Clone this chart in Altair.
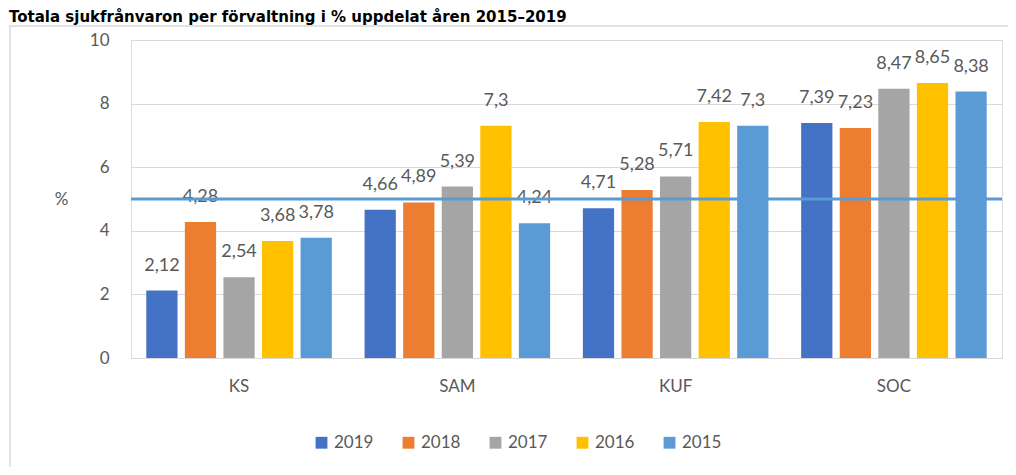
import altair as alt
import pandas as pd

categories = ["KS", "SAM", "KUF", "SOC"]
years = ["2019", "2018", "2017", "2016", "2015"]
colors = ["#4472c4", "#ed7d31", "#a5a5a5", "#ffc000", "#5b9bd5"]
values = {
    "2019": [2.12, 4.66, 4.71, 7.39],
    "2018": [4.28, 4.89, 5.28, 7.23],
    "2017": [2.54, 5.39, 5.71, 8.47],
    "2016": [3.68, 7.30, 7.42, 8.65],
    "2015": [3.78, 4.24, 7.30, 8.38],
}
y_ticks = [0, 2, 4, 6, 8, 10]
reference_line = [5.0]
title_text = "Totala sjukfrånvaron per förvaltning i % uppdelat åren 2015–2019"

rows = []
for yr in years:
    for c, v in zip(categories, values[yr]):
        rows.append({"Förvaltning": c, "År": yr, "Värde": v,
                     "Etikett": f"{v:g}".replace(".", ",")})
df = pd.DataFrame(rows)
df_line = pd.DataFrame({"Värde": reference_line})

W, H = 871, 318
FONT = "Lato"
GREY = "#595959"

x = alt.X("Förvaltning:N", sort=categories, title=None,
          scale=alt.Scale(paddingInner=0.15, paddingOuter=0.07),
          axis=alt.Axis(labelAngle=0, labelFontSize=17, labelColor=GREY,
                        labelFont=FONT, ticks=False, domain=False,
                        labelPadding=20))
xo = alt.XOffset("År:N", sort=years,
                 scale=alt.Scale(paddingInner=0.19, paddingOuter=0))
y_axis = alt.Axis(values=y_ticks, labelFontSize=17, labelColor=GREY,
                  labelFont=FONT, ticks=False, domain=False, labelPadding=22,
                  labelOverlap=False,
                  gridColor="#d9d9d9", gridWidth=1.2,
                  titleAngle=0, titleFontSize=17, titleColor=GREY,
                  titleFont=FONT, titleFontWeight="normal",
                  titleX=-70, titleY=168, titleAlign="center")
y = alt.Y("Värde:Q", scale=alt.Scale(domain=[0, 10], nice=False),
          title="%", axis=y_axis)

base = alt.Chart(df)

bars = base.mark_bar().encode(
    x=x, xOffset=xo, y=y,
    color=alt.Color("År:N", sort=years,
                    scale=alt.Scale(domain=years, range=colors),
                    legend=alt.Legend(title=None, orient="none",
                                      direction="horizontal",
                                      legendX=182, legendY=394,
                                      symbolType="square", symbolSize=140,
                                      labelFontSize=17, labelColor=GREY,
                                      labelFont=FONT, columnPadding=26,
                                      symbolStrokeWidth=0)),
)

labels = base.mark_text(baseline="alphabetic", dy=-20, fontSize=18,
                        font=FONT, color=GREY).encode(
    x=x, xOffset=xo, y=y, text="Etikett:N")

rule = alt.Chart(df_line).mark_rule(
    color="#5b9bd5", strokeWidth=3).encode(y=y)

frame = alt.Chart(df_line).mark_rect(
    fill=None, stroke="#d9d9d9", strokeWidth=1.5).encode(
    x=alt.value(-121), x2=alt.value(W + 30),
    y=alt.value(-14), y2=alt.value(H + 200))

title = alt.Chart(pd.DataFrame({"t": [title_text]})).mark_text(
    align="left", baseline="alphabetic", fontSize=15, fontWeight="bold",
    font="DejaVu Sans", color="#000000").encode(
    x=alt.value(-122), y=alt.value(-18), text="t:N")

chart = alt.layer(frame, bars, labels, rule, title).properties(
    width=W, height=H,
    autosize=alt.AutoSizeParams(type="none"),
    padding={"left": 123, "top": 32, "right": 6, "bottom": 109},
).configure_view(stroke=None).configure(background="white")

chart.save("out.html", embed_options={"renderer": "svg", "actions": False})
